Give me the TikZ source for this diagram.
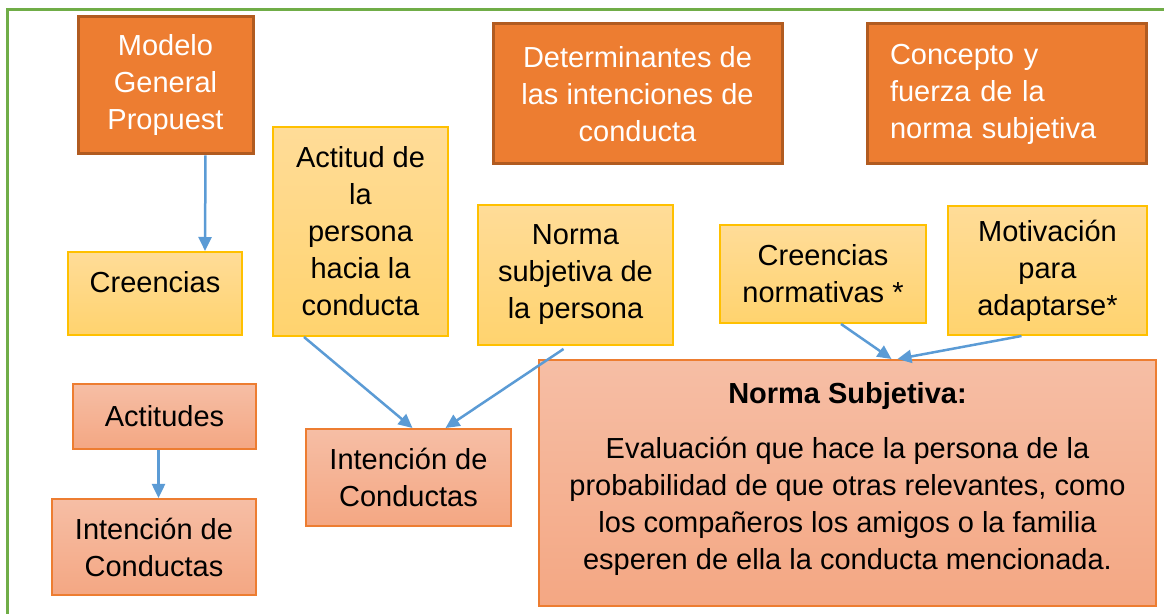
\documentclass[tikz,border=0pt]{standalone}
\usepackage{fontspec}
\setmainfont{Liberation Sans}
\usetikzlibrary{positioning,arrows.meta}
\usepackage{xcolor}
\definecolor{frame}{HTML}{70AD47}
\definecolor{darkor}{HTML}{ED7D31}
\definecolor{darkorline}{HTML}{B15B20}
\definecolor{yelline}{HTML}{FFC000}
\definecolor{yeltop}{HTML}{FFDC98}
\definecolor{yelbot}{HTML}{FFD36E}
\definecolor{saltop}{HTML}{F6BEA5}
\definecolor{salbot}{HTML}{F4A783}
\definecolor{arrowblue}{HTML}{5B9BD5}

\begin{document}
\begin{tikzpicture}[x=0.5pt, y=-0.5pt, line width=1pt,
  every node/.style={font=\fontsize{14.5}{18.5}\selectfont, align=center, inner sep=2pt},
  title/.style={rectangle, draw=darkorline, fill=darkor, text=white, line width=1.5pt},
  yel/.style={rectangle, draw=yelline, top color=yeltop, bottom color=yelbot},
  sal/.style={rectangle, draw=darkor, top color=saltop, bottom color=salbot},
  arr/.style={draw=arrowblue, line width=1.25pt, -{Triangle[length=7pt,width=6.5pt]}}]
  \useasboundingbox (0,0) rectangle (1164,614);
  \draw[frame, line width=1.5pt] (7,614) -- (7,10) -- (1164,10);

  % top row
  \node[title, minimum width=87.5pt, minimum height=68.5pt] (modelo) at (165.5,85.5) {Modelo\\General\\Propuest};
  \node[title, minimum width=144.5pt, minimum height=70pt] (determ) at (637.5,94) {Determinantes de\\las intenciones de\\conducta};
  \node[title, minimum width=139.5pt, minimum height=70pt, align=left, text width=116.5pt, inner xsep=11.5pt] (concepto) at (1006.5,94) {Concepto y\\fuerza de la\\norma subjetiva};

  % yellow boxes
  \node[yel, minimum width=87pt, minimum height=41.5pt, text depth=12pt] (creencias) at (155,293.5) {Creencias};
  \node[yel, minimum width=87.5pt, minimum height=104.5pt] (actitud) at (360.5,231.5) {Actitud de\\la\\persona\\hacia la\\conducta};
  \node[yel, minimum width=97.5pt, minimum height=70pt] (normap) at (575.5,275) {Norma\\subjetiva de\\la persona};
  \node[yel, minimum width=103pt, minimum height=49pt] (creenor) at (823,274) {Creencias\\normativas *};
  \node[yel, minimum width=99.5pt, minimum height=64.5pt] (motiv) at (1047.5,270.5) {Motivación\\para\\adaptarse*};

  % salmon boxes
  \node[sal, minimum width=91.5pt, minimum height=32.5pt] (actitudes) at (164.5,416.5) {Actitudes};
  \node[sal, minimum width=102pt, minimum height=48pt] (intl) at (154,547) {Intención de\\Conductas};
  \node[sal, minimum width=102.5pt, minimum height=48.5pt] (intm) at (408.5,477.5) {Intención de\\Conductas};
  \node[sal, minimum width=308.5pt, minimum height=123pt] (normas) at (847.5,483) {\textbf{Norma Subjetiva:}\\[9pt]Evaluación que hace la persona de la\\probabilidad de que otras relevantes, como\\los compañeros los amigos o la familia\\esperen de ella la conducta mencionada.\rule[-7pt]{0pt}{0pt}};

  % arrows
  \draw[arr] ([xshift=-24.5pt]modelo.south east) -- ([xshift=-19pt]creencias.north east);
  \draw[arr] ([xshift=-3pt]actitudes.south) -- ([xshift=-3pt]actitudes.south |- intl.north);
  \draw[arr] ([xshift=16pt]actitud.south west) -- ([xshift=2pt]intm.north);
  \draw[arr] ([xshift=-6pt, yshift=-1.5pt]normap.south) -- ([xshift=18.5pt]intm.north);
  \draw[arr] ([xshift=9pt]creenor.south) -- ([xshift=22pt]normas.north);
  \draw[arr] ([xshift=-13pt]motiv.south) -- ([xshift=25pt]normas.north);
\end{tikzpicture}
\end{document}
